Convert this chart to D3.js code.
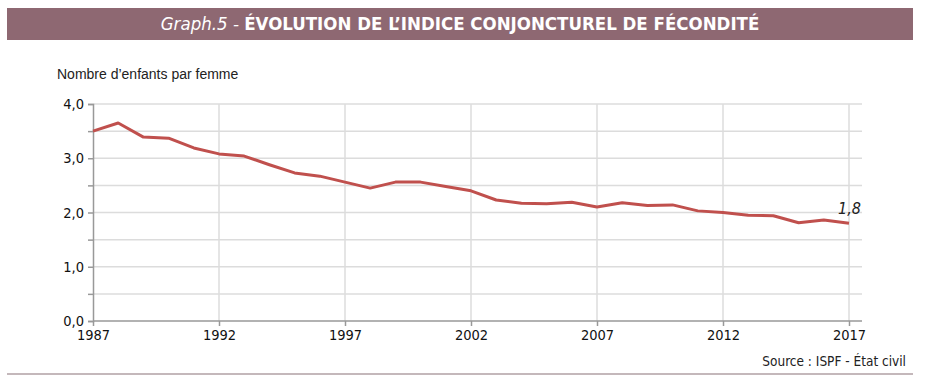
<!DOCTYPE html>
<html>
<head>
<meta charset="utf-8">
<script src="https://cdn.jsdelivr.net/npm/d3@7"></script>
<style>
  body { margin: 0; background: #fff; }
  svg { display: block; }
</style>
</head>
<body>
<script>
// annees et indice conjoncturel de fecondite
const years = d3.range(1987, 2018);
const icf = [3.50, 3.65, 3.39, 3.37, 3.19, 3.08, 3.04, 2.88, 2.73, 2.67,
  2.56, 2.45, 2.56, 2.56, 2.48, 2.40, 2.23, 2.17, 2.16, 2.19,
  2.10, 2.18, 2.13, 2.14, 2.03, 2.00, 1.95, 1.94, 1.81, 1.86, 1.80];
const xTicks = [1987, 1992, 1997, 2002, 2007, 2012, 2017];
const yTicks = [0, 1, 2, 3, 4];
const yGrid = [0.5, 1, 1.5, 2, 2.5, 3, 3.5, 4];

const w = 936;
const h = 390;

const x = d3.scaleLinear().domain([1987, 2017]).range([93, 849]);
const y = d3.scaleLinear().domain([0, 4]).range([321, 104]);
const plotRight = 862;
const font = "DejaVu Sans Condensed, DejaVu Sans, sans-serif";

const fmt = (v) => d3.format(".1f")(v).replace(".", ",");

const svg = d3.select("body").append("svg").attr("width", w).attr("height", h);

// bandeau titre
svg.append("rect")
  .attr("x", 7).attr("y", 8)
  .attr("width", 906).attr("height", 32)
  .attr("fill", "#8e6872");

const title = svg.append("text")
  .attr("x", 460).attr("y", 30)
  .attr("text-anchor", "middle")
  .attr("fill", "#fff")
  .attr("font-family", font)
  .attr("font-size", 18.5);
title.append("tspan").attr("font-style", "italic").text("Graph.5 - ");
title.append("tspan").attr("font-weight", "bold").text("ÉVOLUTION DE L’INDICE CONJONCTUREL DE FÉCONDITÉ");

svg.append("text")
  .attr("x", 57).attr("y", 79)
  .attr("font-family", "Liberation Sans, Arial, sans-serif")
  .attr("font-size", 14)
  .attr("fill", "#222")
  .text("Nombre d’enfants par femme");

// grille
svg.append("g").selectAll("line").data(yGrid).enter().append("line")
  .attr("x1", 93).attr("x2", plotRight)
  .attr("y1", (d) => y(d)).attr("y2", (d) => y(d))
  .attr("stroke", "#dcdcdc").attr("stroke-width", 1.5);

svg.append("g").selectAll("line").data(xTicks.slice(1)).enter().append("line")
  .attr("x1", (d) => x(d)).attr("x2", (d) => x(d))
  .attr("y1", 104).attr("y2", 321)
  .attr("stroke", "#dcdcdc").attr("stroke-width", 1.5);

// axes
const yAxis = svg.append("g")
  .attr("transform", "translate(93,0)")
  .call(d3.axisLeft(y).tickValues(yGrid.concat([0])).tickSize(5).tickFormat((d) => yTicks.includes(d) ? fmt(d) : ""));

const xAxis = svg.append("g")
  .attr("transform", "translate(0,321)")
  .call(d3.axisBottom(x).tickValues(xTicks).tickSize(5).tickFormat(d3.format("d")));
xAxis.select(".domain").attr("d", `M93,0H${plotRight}`);

[yAxis, xAxis].forEach((a) => {
  a.select(".domain").attr("stroke", "#999").attr("stroke-width", 1.5);
  a.selectAll(".tick line").attr("stroke", "#999").attr("stroke-width", 1.5);
  a.selectAll(".tick text")
    .attr("font-family", font)
    .attr("font-size", 14.5)
    .attr("fill", "#111");
});
yAxis.selectAll(".tick text").attr("x", -9);
xAxis.selectAll(".tick text").attr("y", 9);

// courbe
const line = d3.line().x((d, i) => x(years[i])).y((d) => y(d));
svg.append("path")
  .datum(icf)
  .attr("d", line)
  .attr("fill", "none")
  .attr("stroke", "#c0504d")
  .attr("stroke-width", 3)
  .attr("stroke-linejoin", "round");

svg.append("text")
  .attr("x", x(2017) + 12).attr("y", y(icf[icf.length - 1]) - 9)
  .attr("text-anchor", "end")
  .attr("font-family", font)
  .attr("font-style", "italic")
  .attr("font-size", 16)
  .attr("fill", "#222")
  .text(fmt(icf[icf.length - 1]));

// source
svg.append("text")
  .attr("x", 906).attr("y", 366)
  .attr("text-anchor", "end")
  .attr("font-family", font)
  .attr("font-size", 13.5)
  .attr("fill", "#222")
  .text("Source : ISPF - État civil");

svg.append("line")
  .attr("x1", 7).attr("x2", 913)
  .attr("y1", 374).attr("y2", 374)
  .attr("stroke", "#b0a0a4").attr("stroke-width", 1.5);
</script>
</body>
</html>
